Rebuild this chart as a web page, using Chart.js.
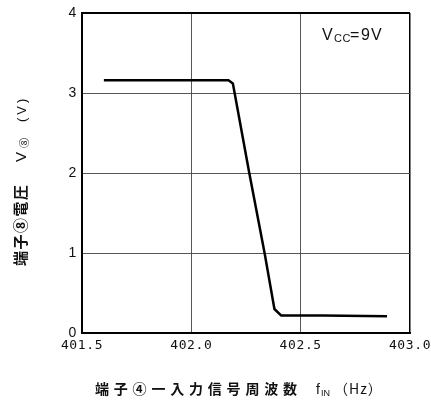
<!DOCTYPE html>
<html>
<head>
<meta charset="utf-8">
<script src="https://cdn.jsdelivr.net/npm/chart.js@4"></script>
<style>
  html, body { margin: 0; padding: 0; background: #fff; }
  canvas { display: block; }
</style>
</head>
<body>
<canvas id="c" width="431" height="410"></canvas>
<script>
// Input frequency (Hz) and pin 8 voltage (V)
const freqHz = [401.60, 402.17, 402.19, 402.265, 402.335, 402.38, 402.41, 402.60, 402.895];
const pin8Volt = [3.16, 3.16, 3.12, 2.0, 1.0, 0.30, 0.22, 0.22, 0.21];

const xTicks = [401.5, 402.0, 402.5, 403.0];
const yTicks = [0, 1, 2, 3, 4];

const points = freqHz.map((f, i) => ({ x: f, y: pin8Volt[i] }));

const CJK = '"Noto Sans CJK JP", "Noto Sans", sans-serif';
const LAT = '"Liberation Sans", Arial, sans-serif';

// Each piece of a label: text, font, offset along the line, letter spacing, drop
function drawPieces(ctx, pieces) {
  for (const p of pieces) {
    ctx.font = p.font;
    ctx.letterSpacing = (p.ls || 0) + 'px';
    ctx.fillText(p.text, p.at, p.dy || 0);
  }
  ctx.letterSpacing = '0px';
}

const labelsPlugin = {
  id: 'labels',
  beforeDraw(chart) {
    // slightly looser digits on the axes
    chart.ctx.letterSpacing = '0.6px';
  },
  afterDraw(chart) {
    const ctx = chart.ctx;
    ctx.save();
    ctx.letterSpacing = '0px';
    ctx.fillStyle = '#111';
    ctx.textBaseline = 'alphabetic';
    ctx.textAlign = 'left';

    // supply voltage note
    ctx.save();
    ctx.translate(0, 40);
    drawPieces(ctx, [
      { text: 'V', font: '16px ' + LAT, at: 322 },
      { text: 'CC', font: '11px ' + LAT, at: 334, dy: 2, ls: 0.5 },
      { text: '=', font: '16px ' + LAT, at: 350 },
      { text: '9V', font: '16px ' + LAT, at: 361, ls: 1 }
    ]);
    ctx.restore();

    // x-axis title
    ctx.save();
    ctx.translate(0, 394);
    drawPieces(ctx, [
      { text: '端子④一入力信号周波数', font: 'bold 14px ' + CJK, at: 95, ls: 4.8 },
      { text: 'f', font: '14px ' + LAT, at: 316 },
      { text: 'IN', font: '9px ' + LAT, at: 321, dy: 2 },
      { text: '（Hz）', font: '14px ' + CJK, at: 334, ls: 1 }
    ]);
    ctx.restore();

    // y-axis title, read bottom to top
    ctx.save();
    ctx.translate(26, 266);
    ctx.rotate(-Math.PI / 2);
    drawPieces(ctx, [
      { text: '端子⑧電圧', font: 'bold 15px ' + CJK, at: 0, ls: 1.5 },
      { text: 'V', font: '15px ' + LAT, at: 104 },
      { text: '⑧', font: '10px ' + CJK, at: 118, dy: 1.5 },
      { text: '(V)', font: '13px ' + LAT, at: 144, ls: 3 }
    ]);
    ctx.restore();

    ctx.restore();
  }
};

new Chart(document.getElementById('c'), {
  type: 'scatter',
  data: {
    datasets: [{
      data: points,
      showLine: true,
      borderColor: '#000',
      borderWidth: 2.5,
      borderJoinStyle: 'round',
      pointRadius: 0,
      tension: 0
    }]
  },
  options: {
    responsive: false,
    animation: false,
    events: [],
    layout: { padding: { left: 0, right: 21, top: 13, bottom: 0 } },
    plugins: { legend: { display: false }, tooltip: { enabled: false } },
    scales: {
      x: {
        type: 'linear',
        min: 401.5,
        max: 403.0,
        afterBuildTicks: s => { s.ticks = xTicks.map(v => ({ value: v })); },
        afterFit: s => { s.height = 77; s.paddingLeft = 0; s.paddingRight = 0; },
        border: { color: '#000', width: 2 },
        grid: {
          color: c => (c.tick && c.tick.value === 403.0) ? '#000' : '#444',
          lineWidth: c => (c.tick && c.tick.value === 403.0) ? 1.5 : 0.9,
          drawTicks: false
        },
        ticks: {
          color: '#111',
          padding: 5,
          maxRotation: 0,
          autoSkip: false,
          font: { family: '"DejaVu Sans Mono", monospace', size: 13 },
          callback: v => v.toFixed(1)
        }
      },
      y: {
        min: 0,
        max: 4,
        afterBuildTicks: s => { s.ticks = yTicks.map(v => ({ value: v })); },
        afterFit: s => { s.width = 82; s.paddingTop = 0; s.paddingBottom = 0; },
        border: { color: '#000', width: 2 },
        grid: {
          color: c => (c.tick && c.tick.value === 4) ? '#000' : '#444',
          lineWidth: c => (c.tick && c.tick.value === 4) ? 2 : 0.9,
          drawTicks: false
        },
        ticks: {
          color: '#111',
          padding: 5,
          font: { family: LAT, size: 14 }
        }
      }
    }
  },
  plugins: [labelsPlugin]
});
</script>
</body>
</html>
